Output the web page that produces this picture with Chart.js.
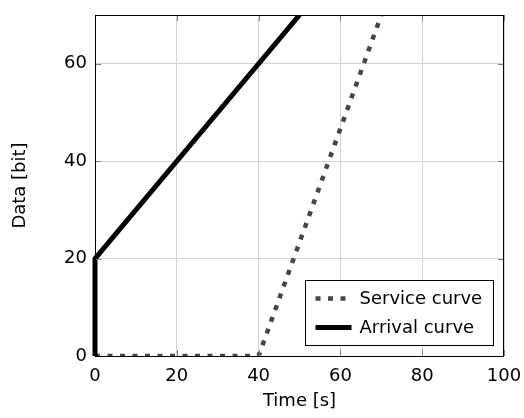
<!DOCTYPE html>
<html>
<head>
<meta charset="utf-8">
<script src="https://cdn.jsdelivr.net/npm/chart.js@4/dist/chart.umd.min.js"></script>
<style>
html,body{margin:0;padding:0;background:#fff;}
#wrap{width:524px;height:418px;position:relative;}
</style>
</head>
<body>
<div id="wrap"><canvas id="c" width="524" height="418"></canvas></div>
<script>
// Data
const xTicks = [0, 20, 40, 60, 80, 100];
const yTicks = [0, 20, 40, 60];
const seriesLabels = ['Service curve', 'Arrival curve'];
const serviceX = [0, 40, 70];
const serviceY = [0, 0, 70];
const arrivalX = [0, 0, 50];
const arrivalY = [0, 20, 70];
const xTitle = 'Time [s]';
const yTitle = 'Data [bit]';

const FONT = '"DejaVu Sans", sans-serif';
const FS = 18;

function pts(xs, ys) { return xs.map((x, i) => ({x: x, y: ys[i]})); }

const framePlugin = {
  id: 'frameAndLegend',
  afterDatasetsDraw(chart) {
    const ctx = chart.ctx;
    const a = chart.chartArea;
    const xs = chart.scales.x, ys = chart.scales.y;
    ctx.save();
    // inward tick marks on all sides
    ctx.strokeStyle = '#7a7a7a';
    ctx.lineWidth = 1;
    const tl = 6;
    xTicks.forEach(v => {
      const px = Math.round(xs.getPixelForValue(v)) + 0.5;
      ctx.beginPath();
      ctx.moveTo(px, a.bottom); ctx.lineTo(px, a.bottom - tl);
      ctx.moveTo(px, a.top); ctx.lineTo(px, a.top + tl);
      ctx.stroke();
    });
    yTicks.forEach(v => {
      const py = Math.round(ys.getPixelForValue(v)) + 0.5;
      ctx.beginPath();
      ctx.moveTo(a.left, py); ctx.lineTo(a.left + tl, py);
      ctx.moveTo(a.right, py); ctx.lineTo(a.right - tl, py);
      ctx.stroke();
    });
    // frame
    ctx.strokeStyle = '#000';
    ctx.lineWidth = 1;
    ctx.strokeRect(Math.round(a.left) + 0.5, Math.round(a.top) + 0.5,
                   Math.round(a.right - a.left) - 1, Math.round(a.bottom - a.top));
    ctx.restore();
  },
  afterDraw(chart) {
    const ctx = chart.ctx;
    const a = chart.chartArea;
    const ds = chart.data.datasets;
    ctx.save();
    ctx.font = FS + 'px ' + FONT;
    let maxW = 0;
    ds.forEach(d => { maxW = Math.max(maxW, ctx.measureText(d.label).width); });
    const sample = 36, gap = 8, padL = 10, padR = 11, rowH = 29, padV = 3.5;
    const w = padL + sample + gap + maxW + padR;
    const h = padV * 2 + rowH * ds.length;
    const right = Math.round(a.right) - 10.5;
    const bottom = Math.round(a.bottom) - 10.5;
    const left = right - Math.round(w);
    const top = bottom - h;
    ctx.fillStyle = '#fff';
    ctx.fillRect(left, top, right - left, bottom - top);
    ctx.strokeStyle = '#000';
    ctx.lineWidth = 1;
    ctx.strokeRect(left, top, right - left, bottom - top);
    ds.forEach((d, i) => {
      const cy = top + padV + rowH * i + rowH / 2;
      ctx.save();
      ctx.strokeStyle = d.borderColor;
      ctx.lineWidth = d.borderWidth;
      ctx.lineCap = 'butt';
      ctx.setLineDash(d.borderDash || []);
      ctx.beginPath();
      ctx.moveTo(left + padL, cy);
      ctx.lineTo(left + padL + sample, cy);
      ctx.stroke();
      ctx.restore();
      ctx.fillStyle = '#000';
      ctx.textBaseline = 'middle';
      ctx.textAlign = 'left';
      ctx.fillText(d.label, left + padL + sample + gap, cy + 1);
    });
    ctx.restore();
  }
};

new Chart(document.getElementById('c'), {
  type: 'line',
  data: {
    datasets: [
      {
        label: seriesLabels[0],
        data: pts(serviceX, serviceY),
        borderColor: '#454545',
        borderWidth: 4.5,
        borderDash: [5, 7.5],
        borderCapStyle: 'butt',
        pointRadius: 0,
        fill: false,
        tension: 0,
        order: 1,
        clip: {left: 5, right: 0, top: 0, bottom: 1}
      },
      {
        label: seriesLabels[1],
        data: pts(arrivalX, arrivalY),
        borderColor: '#000000',
        borderWidth: 5,
        borderCapStyle: 'butt',
        borderJoinStyle: 'miter',
        pointRadius: 0,
        fill: false,
        tension: 0,
        order: 0,
        clip: {left: 5, right: 0, top: 0, bottom: 5}
      }
    ]
  },
  options: {
    responsive: false,
    animation: false,
    devicePixelRatio: 1,
    layout: {padding: {left: 0, right: 20, top: 15, bottom: 0}},
    plugins: {legend: {display: false}, tooltip: {enabled: false}},
    scales: {
      x: {
        type: 'linear',
        min: 0, max: 100,
        afterFit(s) { s.height = 62; s.paddingLeft = 0; s.paddingRight = 0; },
        afterBuildTicks(s) { s.ticks = xTicks.map(v => ({value: v})); },
        grid: {color: '#d3d3d3', lineWidth: 1, drawTicks: false},
        border: {display: false},
        ticks: {color: '#000', font: {family: FONT, size: FS}, padding: 10, maxRotation: 0},
        title: {display: true, text: xTitle, color: '#000', font: {family: FONT, size: FS}, padding: {top: 0, bottom: 6}}
      },
      y: {
        type: 'linear',
        min: 0, max: 70,
        afterFit(s) { s.width = 95; s.paddingTop = 0; s.paddingBottom = 0; },
        afterBuildTicks(s) { s.ticks = yTicks.map(v => ({value: v})); },
        grid: {color: '#d3d3d3', lineWidth: 1, drawTicks: false},
        border: {display: false},
        ticks: {color: '#000', font: {family: FONT, size: FS}, padding: 8},
        title: {display: true, text: yTitle, color: '#000', font: {family: FONT, size: FS}, padding: {top: 10, bottom: 0}}
      }
    }
  },
  plugins: [framePlugin]
});
</script>
</body>
</html>
